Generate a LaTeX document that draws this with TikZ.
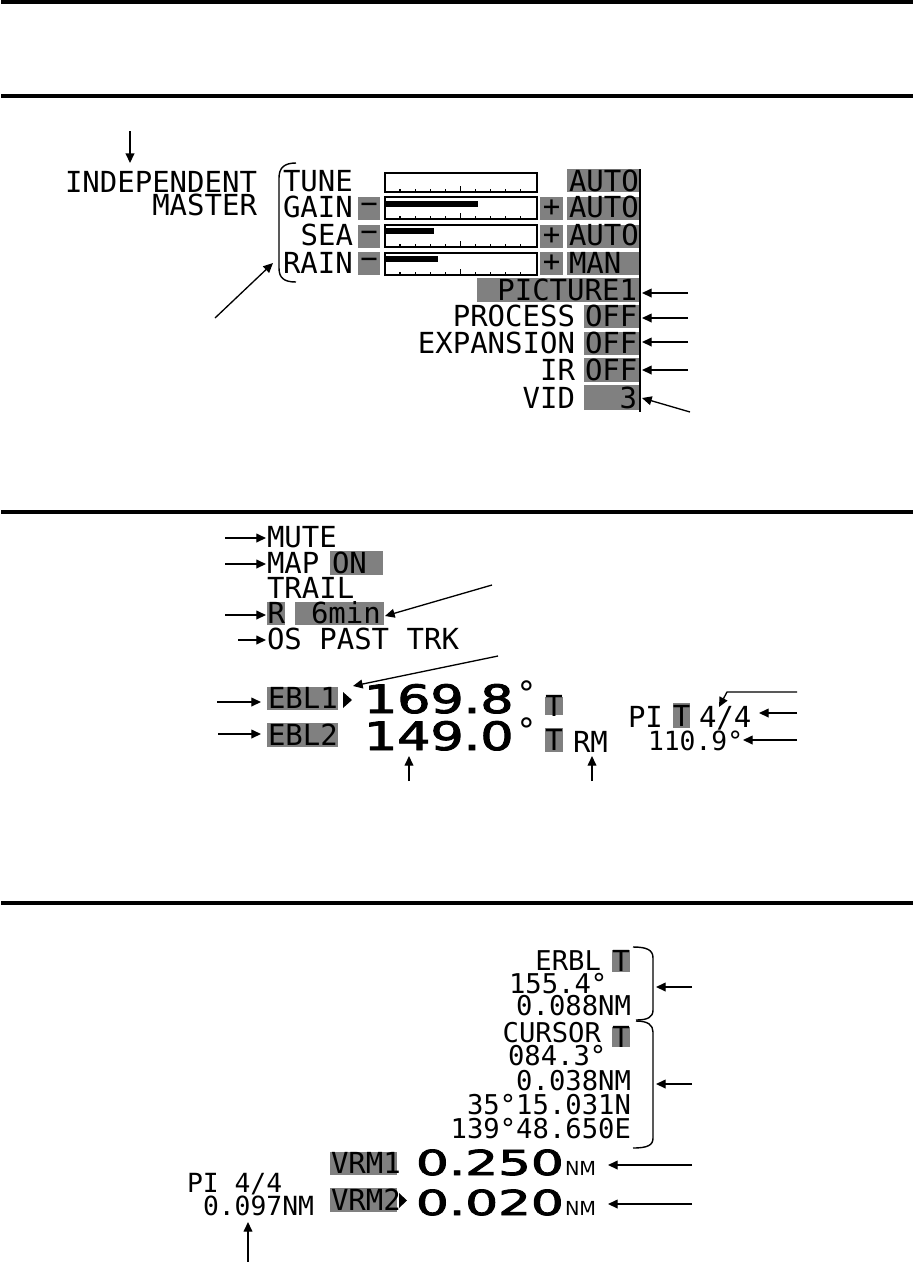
\documentclass[tikz,border=0pt]{standalone}
\usepackage{fontspec}
\setmainfont{DejaVu Sans}
\newfontfamily\dmono{DejaVu Sans Mono}
\newfontfamily\dbig[FakeBold=2.2]{DejaVu Sans}
\newfontfamily\dsmall{DejaVu Sans}
\usetikzlibrary{arrows.meta}
\definecolor{boxgray}{RGB}{128,128,128}
\begin{document}
\begin{tikzpicture}[x=0.02cm,y=-0.02cm,
  t/.style={inner sep=0pt, outer sep=0pt, font=\dmono\fontsize{16.5}{18}\selectfont},
  ts/.style={inner sep=0pt, outer sep=0pt, font=\dmono\fontsize{15.5}{17}\selectfont},
  tp/.style={inner sep=0pt, outer sep=0pt, font=\dmono\fontsize{15}{16}\selectfont},
  big1/.style={inner sep=0pt, outer sep=0pt, font=\dbig\fontsize{22.2}{23}\selectfont},
  big2/.style={inner sep=0pt, outer sep=0pt, font=\dbig\fontsize{19.6}{20}\selectfont},
  nmsmall/.style={inner sep=0pt, outer sep=0pt, font=\dsmall\fontsize{11}{12}\selectfont},
  degsign/.style={inner sep=0pt, outer sep=0pt, font=\dsmall\fontsize{19}{19}\selectfont},
  gbox/.style={fill=boxgray},
  arr/.style={-{Triangle[length=5.5pt,width=5pt]}, line width=0.75pt},
  rulebar/.style={line width=1.9pt},
  barframe/.style={line width=0.85pt},
  tick/.style={line width=0.6pt}
]
\useasboundingbox (0,0) rectangle (914,1262);
\fill[white] (0,0) rectangle (914,1262);

% ---------- horizontal rules
\coordinate (r1a) at (1,2);   \coordinate (r1b) at (913,2);
\coordinate (r2a) at (1,96);  \coordinate (r2b) at (913,96);
\coordinate (r3a) at (1,512); \coordinate (r3b) at (913,512);
\coordinate (r4a) at (1,903); \coordinate (r4b) at (913,903);
\draw[rulebar] (r1a) -- (r1b);
\draw[rulebar] (r2a) -- (r2b);
\draw[rulebar] (r3a) -- (r3b);
\draw[rulebar] (r4a) -- (r4b);

% ================= SECTION 1
\node[t, anchor=base east] (indep) at (257,192) {INDEPENDENT};
\node[t, anchor=base east] (master) at (257,215) {MASTER};
\coordinate (a1s) at (130,131);
\coordinate (a1e) at (130,163);
\draw[arr] (a1s) -- (a1e);

% bracket
\draw[line width=0.8pt] (296,163) .. controls (284,163) and (279,168) .. (279,178) -- (279,268) .. controls (279,278) and (284,282) .. (296,282);

\node[t, anchor=base west] (tune) at (283,191) {TUNE};
\node[t, anchor=base west] (gain) at (283,217) {GAIN};
\node[t, anchor=base east] (sea) at (353,245) {SEA};
\node[t, anchor=base west] (rain) at (283,273) {RAIN};

% minus boxes
\fill[gbox] (358,197) rectangle (380,220);
\fill[gbox] (358,225) rectangle (380,248);
\fill[gbox] (358,252) rectangle (380,275);
\node[t] (m1) at (369,208.5) {−};
\node[t] (m2) at (369,236.5) {−};
\node[t] (m3) at (369,263.5) {−};

% bars
\draw[barframe] (385,173) rectangle (537,192);
\draw[barframe] (385,197) rectangle (537,219);
\draw[barframe] (385,225) rectangle (537,247);
\draw[barframe] (385,253) rectangle (537,275);
\fill[black] (386,201) rectangle (478,207);
\fill[black] (386,228) rectangle (434,234);
\fill[black] (386,256) rectangle (438,262);
\foreach \yb in {192,219,247,275}{
  \foreach \k in {0,...,8}{
    \pgfmathsetmacro{\xt}{400+15.1*\k}
    \ifnum\k=4
      \draw[tick] (\xt,\yb) -- (\xt,\yb-6);
    \else
      \draw[tick] (\xt,\yb) -- (\xt,\yb-3.5);
    \fi
  }
}

% plus boxes
\fill[gbox] (540,197) rectangle (563,220);
\fill[gbox] (540,225) rectangle (563,248);
\fill[gbox] (540,252) rectangle (563,275);
\node[t] (p1) at (551.5,208.5) {+};
\node[t] (p2) at (551.5,236.5) {+};
\node[t] (p3) at (551.5,263.5) {+};

% mode boxes
\fill[gbox] (567,169) rectangle (639,192);
\fill[gbox] (567,197) rectangle (639,220);
\fill[gbox] (567,225) rectangle (639,248);
\fill[gbox] (567,252) rectangle (639,275);
\node[t, anchor=base west] (auto1) at (569,191) {AUTO};
\node[t, anchor=base west] (auto2) at (569,217) {AUTO};
\node[t, anchor=base west] (auto3) at (569,245) {AUTO};
\node[t, anchor=base west] (man) at (569,273) {MAN};

% picture / process rows
\fill[gbox] (477,278) rectangle (639,302);
\node[t, anchor=base east] (pic) at (637,300) {PICTURE1};
\fill[gbox] (584,305) rectangle (639,328);
\fill[gbox] (584,332) rectangle (639,355);
\fill[gbox] (584,358) rectangle (639,382);
\fill[gbox] (584,385) rectangle (639,410);
\node[t, anchor=base east] (proc) at (575,326) {PROCESS};
\node[t, anchor=base west] (off1) at (585,326) {OFF};
\node[t, anchor=base east] (exp) at (575,353) {EXPANSION};
\node[t, anchor=base west] (off2) at (585,353) {OFF};
\node[t, anchor=base east] (ir) at (575,380) {IR};
\node[t, anchor=base west] (off3) at (585,380) {OFF};
\node[t, anchor=base east] (vid) at (575,408) {VID};
\node[t, anchor=base east] (vid3) at (637,408) {3};
\coordinate (vl1) at (640,169); \coordinate (vl2) at (640,412);
\draw[line width=0.9pt] (vl1) -- (vl2);

% right arrows
\coordinate (s1a) at (688,293); \coordinate (s1b) at (642,293);
\coordinate (s2a) at (688,318); \coordinate (s2b) at (642,318);
\coordinate (s3a) at (688,342); \coordinate (s3b) at (642,342);
\coordinate (s4a) at (688,370); \coordinate (s4b) at (642,370);
\coordinate (s5a) at (690,412); \coordinate (s5b) at (642,398);
\draw[arr] (s1a) -- (s1b);
\draw[arr] (s2a) -- (s2b);
\draw[arr] (s3a) -- (s3b);
\draw[arr] (s4a) -- (s4b);
\draw[arr] (s5a) -- (s5b);
\coordinate (dga) at (215,318); \coordinate (dgb) at (273,263);
\draw[arr] (dga) -- (dgb);

% ================= SECTION 2
\node[t, anchor=base west] (mute) at (267,547) {MUTE};
\node[t, anchor=base west] (map) at (267,573) {MAP};
\fill[gbox] (330,551) rectangle (383,575);
\node[t, anchor=base west] (on) at (332,573) {ON};
\node[t, anchor=base west] (trail) at (267,598) {TRAIL};
\fill[gbox] (267,602) rectangle (285,625);
\fill[gbox] (295,602) rectangle (384,625);
\node[t, anchor=base west] (rr) at (267.5,623) {R};
\node[t, anchor=base west] (six) at (311,623) {6min};
\node[t, anchor=base west] (ospast) at (267,649) {OS PAST TRK};

\coordinate (q1a) at (225,538); \coordinate (q1b) at (266,538);
\coordinate (q2a) at (225,564); \coordinate (q2b) at (266,564);
\coordinate (q3a) at (225,615); \coordinate (q3b) at (266,615);
\coordinate (q4a) at (238,640); \coordinate (q4b) at (266,640);
\draw[arr] (q1a) -- (q1b);
\draw[arr] (q2a) -- (q2b);
\draw[arr] (q3a) -- (q3b);
\draw[arr] (q4a) -- (q4b);
\coordinate (q5a) at (492,585); \coordinate (q5b) at (385,616);
\draw[arr] (q5a) -- (q5b);
\coordinate (q6a) at (498,656); \coordinate (q6b) at (353,686);
\draw[arr] (q6a) -- (q6b);

% EBL rows
\fill[gbox] (267,687) rectangle (338,710);
\node[t, anchor=base west] (ebl1) at (268,708) {EBL1};
\fill[black] (343,692) -- (343,708) -- (352,700) -- cycle;
\node[big1, anchor=base west] (v169) at (364,713) {\scalebox{1.34}[1]{169.8}};
\node[degsign, anchor=north west] (deg1) at (518,681) {°};
\fill[gbox] (545,697) rectangle (563,715);
\node[t] (tt1) at (554,706) {T};

\fill[gbox] (267,723) rectangle (338,747);
\node[t, anchor=base west] (ebl2) at (268,745) {EBL2};
\node[big1, anchor=base west] (v149) at (364,750) {\scalebox{1.34}[1]{149.0}};
\node[degsign, anchor=north west] (deg2) at (518,718) {°};
\fill[gbox] (545,728) rectangle (563,752);
\node[t] (tt2) at (554,740) {T};
\node[t, anchor=base west] (rm) at (573,752) {RM};

\coordinate (e1a) at (217,702); \coordinate (e1b) at (261,702);
\coordinate (e2a) at (218,734); \coordinate (e2b) at (261,734);
\draw[arr] (e1a) -- (e1b);
\draw[arr] (e2a) -- (e2b);
\coordinate (u1a) at (409,781); \coordinate (u1b) at (409,756);
\coordinate (u2a) at (592,781); \coordinate (u2b) at (592,756);
\draw[arr] (u1a) -- (u1b);
\draw[arr] (u2a) -- (u2b);

% PI block
\node[t, anchor=base west] (pi1) at (628,727) {PI};
\fill[gbox] (673,703) rectangle (690,728);
\node[t] (tt3) at (681.5,715.5) {T};
\node[t, anchor=base west] (ff1) at (699,727) {4/4};
\node[tp, anchor=base west] (pideg) at (648,750) {110.9°};
\coordinate (k1a) at (797,692); \coordinate (k1m) at (727,692); \coordinate (k1b) at (719,707);
\draw[arr] (k1a) -- (k1m) -- (k1b);
\coordinate (k2a) at (797,713); \coordinate (k2b) at (759,713);
\coordinate (k3a) at (797,740); \coordinate (k3b) at (743,740);
\draw[arr] (k2a) -- (k2b);
\draw[arr] (k3a) -- (k3b);

% ================= SECTION 3
\node[ts, anchor=base east] (erbl) at (601,970) {ERBL};
\fill[gbox] (612,950) rectangle (630,972);
\node[t] (tt4) at (621,961) {T};
\node[ts, anchor=base west] (e155) at (509,993) {155.4°};
\node[ts, anchor=base east] (e088) at (631,1015) {0.088NM};
\node[ts, anchor=base east] (cursor) at (601,1042) {CURSOR};
\fill[gbox] (612,1027) rectangle (630,1047);
\node[t] (tt5) at (621,1037) {T};
\node[ts, anchor=base west] (c084) at (508,1065) {084.3°};
\node[ts, anchor=base east] (c038) at (631,1090) {0.038NM};
\node[ts, anchor=base east] (clat) at (631,1114) {35°15.031N};
\node[ts, anchor=base east] (clon) at (631,1138) {139°48.650E};

\draw[line width=0.8pt] (633,947) .. controls (647,947) and (653,950) .. (653,958) -- (653,1010) .. controls (653,1017) and (648,1020) .. (636,1020);
\draw[line width=0.8pt] (636,1021) .. controls (648,1021) and (653,1025) .. (653,1032) -- (653,1138) .. controls (653,1145) and (648,1148) .. (633,1148);
\coordinate (b1a) at (692,987); \coordinate (b1b) at (656,987);
\coordinate (b2a) at (692,1084); \coordinate (b2b) at (656,1084);
\draw[arr] (b1a) -- (b1b);
\draw[arr] (b2a) -- (b2b);

% VRM rows
\fill[gbox] (330,1152) rectangle (397,1175);
\node[t, anchor=base west] (vrm1) at (331,1173) {VRM1};
\node[big2, anchor=base west] (v250) at (416,1175) {\scalebox{1.5}[1]{0.250}};
\node[nmsmall, anchor=base west] (nm1) at (565,1175) {NM};
\fill[gbox] (330,1188) rectangle (397,1212);
\node[t, anchor=base west] (vrm2) at (331,1210) {VRM2};
\fill[black] (399,1193) -- (399,1208) -- (407,1200.5) -- cycle;
\node[big2, anchor=base west] (v020) at (416,1215) {\scalebox{1.5}[1]{0.020}};
\node[nmsmall, anchor=base west] (nm2) at (565,1215) {NM};
\coordinate (w1a) at (692,1165); \coordinate (w1b) at (608,1165);
\coordinate (w2a) at (692,1204); \coordinate (w2b) at (608,1204);
\draw[arr] (w1a) -- (w1b);
\draw[arr] (w2a) -- (w2b);

\node[tp, anchor=base west] (pi2) at (187,1192) {PI 4/4};
\node[tp, anchor=base west] (p097) at (203,1215) {0.097NM};
\coordinate (z1a) at (248,1262); \coordinate (z1b) at (248,1222);
\draw[arr] (z1a) -- (z1b);
\end{tikzpicture}
\end{document}
